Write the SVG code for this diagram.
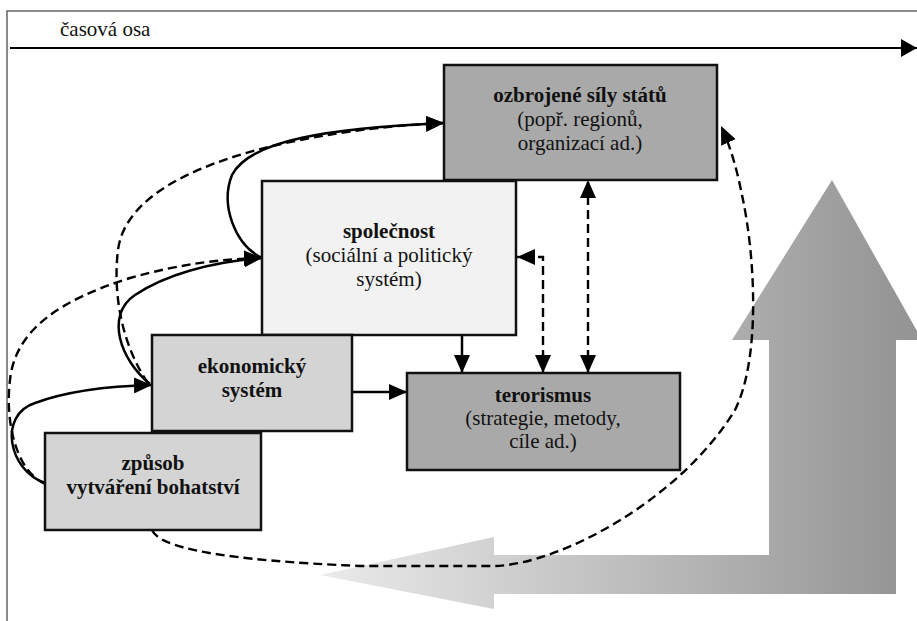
<svg xmlns="http://www.w3.org/2000/svg" width="917" height="621" viewBox="0 0 917 621">
<style>
.box{stroke:#111;stroke-width:2.5}
.t{font-family:"Liberation Serif","Times New Roman",serif;font-size:21px;fill:#111;text-anchor:middle}
.b{font-weight:bold}
.sol{fill:none;stroke:#000;stroke-width:2.5}
.dash{fill:none;stroke:#000;stroke-width:2.4;stroke-dasharray:9 5}
</style>
<defs>
<marker id="ah" viewBox="0 0 18 16" refX="18" refY="8" markerWidth="18" markerHeight="16" markerUnits="userSpaceOnUse" orient="auto-start-reverse"><path d="M0,0 L18,8 L0,16 z" fill="#000"/></marker>
<marker id="ax" viewBox="0 0 16 18" refX="16" refY="9" markerWidth="16" markerHeight="18" markerUnits="userSpaceOnUse" orient="auto"><path d="M0,0 L16,9 L0,18 z" fill="#000"/></marker>
<linearGradient id="g" gradientUnits="userSpaceOnUse" x1="320" y1="0" x2="900" y2="0"><stop offset="0" stop-color="#ebebeb"/><stop offset="1" stop-color="#959595"/></linearGradient>
</defs>
<rect x="7" y="11" width="925" height="625" fill="none" stroke="#666" stroke-width="1.5"/>
<g id="timeline">
<text class="t" x="60" y="36" style="text-anchor:start">časová osa</text>
<line x1="10" y1="48" x2="917" y2="48" stroke="#000" stroke-width="2" marker-end="url(#ax)"/>
</g>
<g id="big-arrow">
<polygon points="320,575 494,537 494,555 769,555 769,340 732,340 832,180 922,340 896,340 896,594 494,594 494,609" fill="url(#g)"/>
</g>
<g id="connectors">
<path class="dash" d="M152,530 C160,548 220,560 360,566 L495,566 C560,564 680,500 735,410 C760,360 756,260 742,195 C737,170 731,148 721,126" marker-end="url(#ah)"/>
<path class="dash" d="M45,484 C15,470 5,420 10,380 C15,330 60,300 130,278 C180,264 220,259 262,258" marker-end="url(#ah)"/>
<path class="dash" d="M148,383 C125,350 112,300 118,250 C125,195 200,160 300,140 C350,130 400,125 444,123" marker-end="url(#ah)"/>
<path class="sol" d="M45,483 C8,470 -2,415 35,403 C70,390 110,386 152,385" marker-end="url(#ah)"/>
<path class="sol" d="M150,384 C120,360 105,315 135,295 C165,275 210,262 262,258" marker-end="url(#ah)"/>
<path class="sol" d="M262,258 C235,245 220,205 232,175 C250,140 330,128 444,123" marker-end="url(#ah)"/>
<line class="sol" x1="352" y1="392" x2="407" y2="392" marker-end="url(#ah)"/>
<line class="sol" x1="462" y1="335" x2="462" y2="373" marker-end="url(#ah)"/>
<path class="dash" d="M543,373 L543,257 L517,257" marker-start="url(#ah)" marker-end="url(#ah)"/>
<line class="dash" x1="588" y1="373" x2="588" y2="180" marker-start="url(#ah)" marker-end="url(#ah)"/>
</g>
<g id="ozbrojene">
<rect class="box" x="444" y="65" width="273" height="115" fill="#a9a9a9"/>
<text class="t b" x="580" y="102">ozbrojené síly států</text>
<text class="t" x="580" y="126">(popř. regionů,</text>
<text class="t" x="580" y="150">organizací ad.)</text>
</g>
<g id="spolecnost">
<rect class="box" x="262" y="181" width="254" height="154" fill="#f2f2f2"/>
<text class="t b" x="389" y="238">společnost</text>
<text class="t" x="389" y="262">(sociální a politický</text>
<text class="t" x="389" y="286">systém)</text>
</g>
<g id="ekonomicky">
<rect class="box" x="152" y="335" width="200" height="96" fill="#d4d4d4"/>
<text class="t b" x="252" y="373">ekonomický</text>
<text class="t b" x="252" y="397">systém</text>
</g>
<g id="zpusob">
<rect class="box" x="45" y="433" width="216" height="97" fill="#d4d4d4"/>
<text class="t b" x="153" y="470">způsob</text>
<text class="t b" x="153" y="494">vytváření bohatství</text>
</g>
<g id="terorismus">
<rect class="box" x="407" y="373" width="273" height="97" fill="#a9a9a9"/>
<text class="t b" x="543" y="402">terorismus</text>
<text class="t" x="543" y="425">(strategie, metody,</text>
<text class="t" x="543" y="448">cíle ad.)</text>
</g>
</svg>
